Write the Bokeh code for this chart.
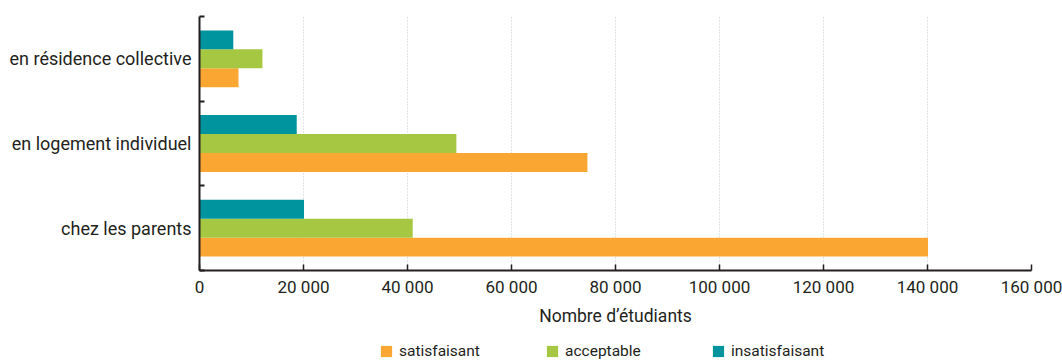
from bokeh.plotting import figure
from bokeh.models import Legend, LegendItem, FixedTicker
from bokeh.layouts import column
from bokeh.embed import file_html
from bokeh.resources import INLINE

categories = ["chez les parents", "en logement individuel", "en résidence collective"]
series_names = ["satisfaisant", "acceptable", "insatisfaisant"]
satisfaisant = [140100, 74600, 7500]
acceptable = [41000, 49400, 12100]
insatisfaisant = [20100, 18700, 6500]
series_colors = ["#F9A633", "#A6C741", "#00959E"]
x_ticks = [0, 20000, 40000, 60000, 80000, 100000, 120000, 140000, 160000]
x_tick_labels = ["0", "20 000", "40 000", "60 000", "80 000", "100 000", "120 000", "140 000", "160 000"]
x_title = "Nombre d’étudiants"

FONT = "Roboto"
TXT = "#231f20"

p = figure(width=1062, height=335, x_range=(0, 160000), y_range=(0, 3),
           output_backend="svg", toolbar_location=None,
           min_border_left=199, min_border_right=31, min_border_top=16, min_border_bottom=65)
p.outline_line_color = None
p.background_fill_color = "white"

bar_h = 0.224
offsets = [-bar_h, 0.0, bar_h]
for vals, name, col, off in zip([satisfaisant, acceptable, insatisfaisant], series_names, series_colors, offsets):
    ys = [i + 0.5 + off for i in range(len(categories))]
    p.hbar(y=ys, right=vals, left=0, height=bar_h, fill_color=col, line_color=None)

xa = p.xaxis[0]
xa.ticker = FixedTicker(ticks=x_ticks)
xa.major_label_overrides = {t: l for t, l in zip(x_ticks, x_tick_labels)}
xa.axis_label = x_title
xa.axis_label_text_font = FONT
xa.axis_label_text_font_size = "17.5px"
xa.axis_label_text_font_style = "normal"
xa.axis_label_text_color = TXT
xa.axis_label_standoff = 6
xa.major_label_text_font = FONT
xa.major_label_text_font_size = "17px"
xa.major_label_text_color = TXT
xa.major_label_standoff = 6
xa.major_tick_in = 6
xa.major_tick_out = 0
xa.major_tick_line_width = 1.5
xa.major_tick_line_color = TXT
xa.minor_tick_line_color = None
xa.axis_line_width = 2
xa.axis_line_color = TXT

ya = p.yaxis[0]
ya.ticker = FixedTicker(ticks=[i + 0.5 for i in range(len(categories))],
                        minor_ticks=list(range(len(categories) + 1)))
ya.major_label_overrides = {i + 0.5: c for i, c in enumerate(categories)}
ya.major_label_text_font = FONT
ya.major_label_text_font_size = "18px"
ya.major_label_text_color = TXT
ya.major_label_standoff = 8
ya.major_tick_in = 0
ya.major_tick_out = 0
ya.minor_tick_in = 5
ya.minor_tick_out = 0
ya.minor_tick_line_width = 2
ya.minor_tick_line_color = TXT
ya.axis_line_width = 2
ya.axis_line_color = TXT

p.xgrid.ticker = FixedTicker(ticks=x_ticks)
p.xgrid.grid_line_color = "#c8c8c8"
p.xgrid.grid_line_dash = "1 2"
p.xgrid.grid_line_width = 1
p.ygrid.visible = False

# legend strip below the chart (placeholder renderers lie outside the visible range)
p2 = figure(width=1062, height=26, x_range=(0, 1), y_range=(0, 1),
            x_axis_type=None, y_axis_type=None,
            output_backend="svg", toolbar_location=None,
            min_border_left=199, min_border_right=31, min_border_top=6, min_border_bottom=0)
p2.outline_line_color = None
p2.grid.visible = False
legend_renderers = [p2.hbar(y=[-5], right=[0], left=0, height=0.5, fill_color=col, line_color=None)
                    for col in series_colors]

legend = Legend(items=[LegendItem(label=n, renderers=[r]) for n, r in zip(series_names, legend_renderers)],
                orientation="horizontal", location="center",
                glyph_width=14, glyph_height=14, label_standoff=6, label_width=120, label_height=14,
                spacing=26, padding=0, margin=0,
                label_text_font=FONT, label_text_font_size="15.5px", label_text_color=TXT,
                border_line_color=None, background_fill_alpha=0)
p2.add_layout(legend, "center")

layout = column(p, p2, spacing=0)
open("out.html", "w").write(file_html(layout, INLINE))
